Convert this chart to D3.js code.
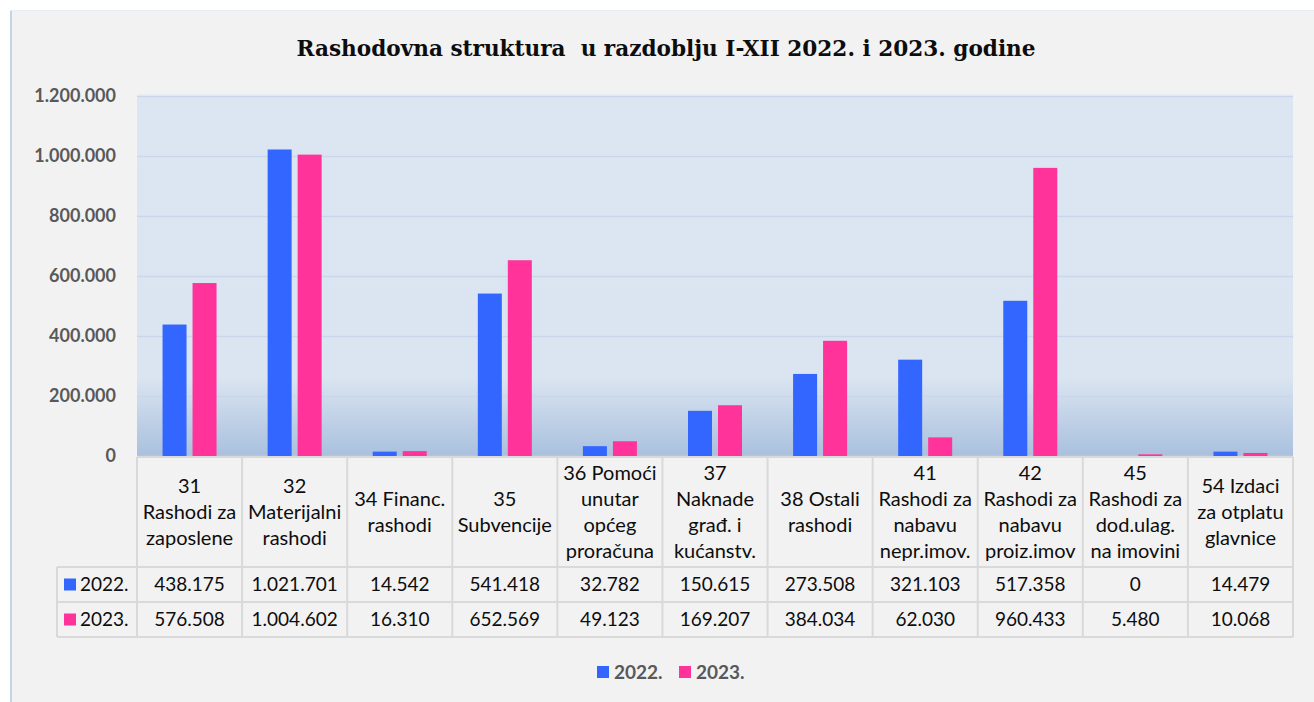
<!DOCTYPE html>
<html lang="hr">
  <head>
    <meta charset="utf-8">
    <title>Rashodovna struktura u razdoblju I-XII 2022. i 2023. godine</title>
    <script src="https://d3js.org/d3.v7.min.js"></script>
    <style>
      body { margin: 0; background: #fff; }
      svg { display: block; }
    </style>
  </head>
  <body>
    <svg></svg>
    <script>
      // podaci
      const kategorije = [
        ['31', 'Rashodi za', 'zaposlene'],
        ['32', 'Materijalni', 'rashodi'],
        ['34 Financ.', 'rashodi'],
        ['35', 'Subvencije'],
        ['36 Pomoći', 'unutar', 'općeg', 'proračuna'],
        ['37', 'Naknade', 'građ. i', 'kućanstv.'],
        ['38 Ostali', 'rashodi'],
        ['41', 'Rashodi za', 'nabavu', 'nepr.imov.'],
        ['42', 'Rashodi za', 'nabavu', 'proiz.imov'],
        ['45', 'Rashodi za', 'dod.ulag.', 'na imovini'],
        ['54 Izdaci', 'za otplatu', 'glavnice']
      ]
      const serije = ['2022.', '2023.']
      const boje = ['#3366ff', '#ff3399']
      const vrijednosti2022 = [438175, 1021701, 14542, 541418, 32782, 150615, 273508, 321103, 517358, 0, 14479]
      const vrijednosti2023 = [576508, 1004602, 16310, 652569, 49123, 169207, 384034, 62030, 960433, 5480, 10068]
      const yTicks = [0, 200000, 400000, 600000, 800000, 1000000, 1200000]

      const dataRows = [vrijednosti2022, vrijednosti2023]

      const hr = d3.formatLocale({ decimal: ',', thousands: '.', grouping: [3], currency: ['', ' €'] })
      const fmt = hr.format(',d')

      const W = 1314, H = 702
      const svg = d3.select('svg').attr('width', W).attr('height', H)

      // okvir grafikona
      svg.append('rect').attr('x', 10).attr('y', 10).attr('width', W - 10).attr('height', H - 10).attr('fill', '#f2f2f2')
      svg.append('line').attr('x1', 11).attr('x2', 11).attr('y1', 10).attr('y2', H).attr('stroke', '#c5d3e8').attr('stroke-width', 2)
      svg.append('line').attr('x1', 10).attr('x2', W).attr('y1', 10.5).attr('y2', 10.5).attr('stroke', '#e8edf4').attr('stroke-width', 1)

      // naslov
      svg.append('text')
        .attr('x', 666).attr('y', 56)
        .attr('text-anchor', 'middle')
        .style('font-family', '"DejaVu Serif", "Liberation Serif", serif')
        .style('font-weight', 'bold')
        .style('font-size', '21.6px')
        .style('white-space', 'pre')
        .attr('fill', '#0d0d0d')
        .text('Rashodovna struktura  u razdoblju I-XII 2022. i 2023. godine')

      const pLeft = 137, pRight = 1293, pTop = 96, pBottom = 456

      const x = d3.scaleBand().domain(d3.range(kategorije.length)).range([pLeft, pRight])
      const xs = d3.scaleBand().domain(serije).range([x.bandwidth() / 2 - 27, x.bandwidth() / 2 + 27]).paddingInner(0.2)
      const y = d3.scaleLinear().domain([0, 1200000]).range([pBottom, pTop])

      // pozadina s gradijentom
      const defs = svg.append('defs')
      const grad = defs.append('linearGradient').attr('id', 'pozadina').attr('x1', 0).attr('x2', 0).attr('y1', 0).attr('y2', 1)
      grad.append('stop').attr('offset', '0%').attr('stop-color', '#dce6f2')
      grad.append('stop').attr('offset', '78%').attr('stop-color', '#dbe5f1')
      grad.append('stop').attr('offset', '100%').attr('stop-color', '#a9c0de')

      svg.append('rect')
        .attr('x', pLeft).attr('y', pTop)
        .attr('width', pRight - pLeft).attr('height', pBottom - pTop)
        .attr('fill', 'url(#pozadina)')
      svg.append('line').attr('x1', pLeft).attr('x2', pRight).attr('y1', pTop - 1).attr('y2', pTop - 1).attr('stroke', '#e9eef6').attr('stroke-width', 2)

      // mreža
      svg.append('g')
        .attr('transform', `translate(${pLeft},0)`)
        .call(d3.axisLeft(y).tickValues(yTicks).tickSize(-(pRight - pLeft)).tickFormat(''))
        .call(g => g.select('.domain').remove())
        .call(g => g.selectAll('.tick line').attr('stroke', '#cad7ea').attr('stroke-width', 1.5))

      // oznake osi y
      svg.append('g')
        .attr('transform', 'translate(116,0)')
        .call(d3.axisLeft(y).tickValues(yTicks).tickSize(0).tickPadding(0).tickFormat(fmt))
        .call(g => g.select('.domain').remove())
        .call(g => g.selectAll('text')
          .style('font-family', 'Lato, "Open Sans", sans-serif')
          .style('font-weight', 'bold')
          .style('font-size', '18px')
          .attr('fill', '#595959'))

      // stupci
      const grupe = svg.append('g').selectAll('g')
        .data(kategorije.map((k, i) => i))
        .join('g')
          .attr('transform', i => `translate(${x(i)},0)`)

      grupe.selectAll('rect')
        .data(i => serije.map((s, j) => ({ s, j, v: dataRows[j][i] })))
        .join('rect')
          .attr('x', d => xs(d.s))
          .attr('width', xs.bandwidth())
          .attr('y', d => y(d.v))
          .attr('height', d => pBottom - y(d.v))
          .attr('fill', d => boje[d.j])

      // tablica podataka
      const rowTop = 457, headerBottom = 567, rowH = 35
      const tableLeft = 57
      const lineCol = '#d9d9d9'
      const tablica = svg.append('g')

      const tableFont = 'Lato, "Open Sans", sans-serif'

      // okomite linije
      const xs2 = d3.range(kategorije.length + 1).map(i => i < kategorije.length ? x(i) : pRight)
      xs2.forEach(xx => {
        tablica.append('line').attr('x1', xx).attr('x2', xx).attr('y1', rowTop).attr('y2', headerBottom + 2 * rowH)
          .attr('stroke', lineCol).attr('stroke-width', 2)
      })
      tablica.append('line').attr('x1', tableLeft).attr('x2', tableLeft).attr('y1', headerBottom).attr('y2', headerBottom + 2 * rowH)
        .attr('stroke', lineCol).attr('stroke-width', 2)
      // vodoravne linije
      tablica.append('line').attr('x1', pLeft).attr('x2', pRight).attr('y1', rowTop).attr('y2', rowTop).attr('stroke', lineCol).attr('stroke-width', 2)
      ;[headerBottom, headerBottom + rowH, headerBottom + 2 * rowH].forEach(yy => {
        tablica.append('line').attr('x1', tableLeft).attr('x2', pRight).attr('y1', yy).attr('y2', yy).attr('stroke', lineCol).attr('stroke-width', 2)
      })

      // zaglavlje
      const lh = 25.8
      kategorije.forEach((linije, i) => {
        const cx = x(i) + x.bandwidth() / 2
        const y0 = 512 - (linije.length - 1) * lh / 2
        const t = tablica.append('text')
          .attr('text-anchor', 'middle')
          .style('font-family', tableFont)
          .style('font-size', '20px')
          .attr('fill', '#0d0d0d')
        linije.forEach((l, k) => {
          t.append('tspan').attr('x', cx).attr('y', y0 + k * lh).attr('dy', '0.35em').text(l)
        })
      })

      // retci s vrijednostima
      serije.forEach((s, j) => {
        const cy = headerBottom + j * rowH + rowH / 2
        tablica.append('rect').attr('x', 64).attr('y', cy - 6).attr('width', 12).attr('height', 12).attr('fill', boje[j])
        tablica.append('text').attr('x', 80).attr('y', cy).attr('dy', '0.35em')
          .style('font-family', tableFont).style('font-size', '19px').attr('fill', '#0d0d0d')
          .text(s)
        dataRows[j].forEach((v, i) => {
          tablica.append('text')
            .attr('x', x(i) + x.bandwidth() / 2).attr('y', cy).attr('dy', '0.35em')
            .attr('text-anchor', 'middle')
            .style('font-family', tableFont).style('font-size', '19px').attr('fill', '#0d0d0d')
            .text(fmt(v))
        })
      })

      // legenda
      const legenda = svg.append('g').attr('transform', 'translate(597,672)')
      const lx = [0, 82]
      serije.forEach((s, j) => {
        legenda.append('rect').attr('x', lx[j]).attr('y', -6).attr('width', 12).attr('height', 12).attr('fill', boje[j])
        legenda.append('text').attr('x', lx[j] + 17).attr('y', 0).attr('dy', '0.35em')
          .style('font-family', tableFont).style('font-weight', 'bold').style('font-size', '19px')
          .attr('fill', '#595959').text(s)
      })
    </script>
  </body>
</html>
